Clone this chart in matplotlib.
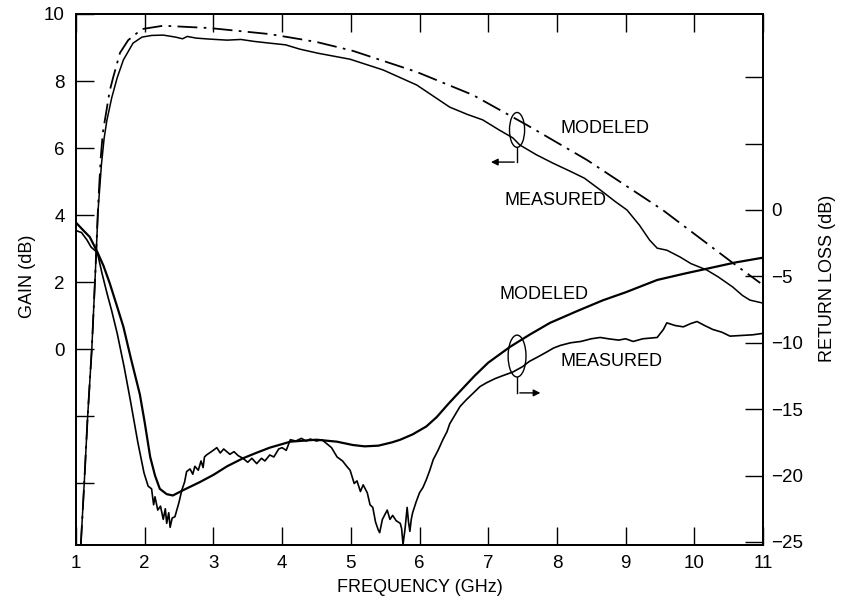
import matplotlib
matplotlib.use('Agg')
import matplotlib.pyplot as plt
from matplotlib.patches import Ellipse

plt.rcParams['font.family'] = ['Liberation Sans', 'DejaVu Sans']

# gain, modeled (dB)
gain_mod_f = [1.07, 1.12, 1.17, 1.23, 1.28, 1.32, 1.36, 1.39, 1.45, 1.49, 1.54, 1.64, 1.76,
              1.96, 2.27, 2.95, 3.82, 4.26, 4.51, 5.03, 5.96, 6.78, 7.56, 8.44, 9.54, 10.56, 10.96]
gain_mod = [-5.85, -4.0, -2.0, 0.0, 2.2, 4.2, 5.7, 6.45, 7.2, 7.7, 8.1, 8.84, 9.22,
            9.55, 9.65, 9.58, 9.4, 9.25, 9.16, 8.9, 8.27, 7.58, 6.69, 5.64, 4.15, 2.57, 1.97]

# gain, measured (dB)
gain_meas_f = [1.07, 1.12, 1.17, 1.23, 1.28, 1.32, 1.37, 1.41, 1.45, 1.52, 1.60, 1.69, 1.83,
               1.96, 2.1, 2.27, 2.45, 2.55, 2.62, 2.75, 2.95, 3.2, 3.4, 3.6, 3.82, 4.05,
               4.26, 4.52, 4.99, 5.47, 5.96, 6.2, 6.44, 6.7, 6.92, 7.15, 7.36, 7.46, 7.7,
               7.94, 8.2, 8.4, 8.63, 8.85, 9.02, 9.2, 9.35, 9.46, 9.6, 9.79, 9.95, 10.18,
               10.35, 10.56, 10.7, 10.81, 11.0]
gain_meas = [-5.85, -4.0, -2.0, 0.0, 2.2, 4.1, 5.5, 6.3, 6.83, 7.5, 8.1, 8.63, 9.13,
             9.31, 9.36, 9.37, 9.31, 9.26, 9.33, 9.28, 9.25, 9.22, 9.24, 9.18, 9.13, 9.08,
             8.95, 8.83, 8.65, 8.33, 7.88, 7.55, 7.22, 7.0, 6.84, 6.55, 6.3, 6.09, 5.8,
             5.55, 5.3, 5.1, 4.75, 4.4, 4.15, 3.7, 3.25, 3.01, 2.95, 2.75, 2.55, 2.36,
             2.15, 1.85, 1.6, 1.46, 1.37]

# return loss, modeled (dB)
rl_mod_f = [1.0, 1.1, 1.2, 1.31, 1.4, 1.49, 1.6, 1.69, 1.8, 1.93, 2.0, 2.08, 2.15, 2.22,
            2.32, 2.41, 2.56, 2.8, 3.0, 3.2, 3.43, 3.62, 3.82, 4.12, 4.5, 4.8, 5.03, 5.2,
            5.4, 5.6, 5.72, 5.9, 6.1, 6.25, 6.42, 6.6, 6.8, 7.0, 7.32, 7.6, 7.9, 8.3,
            8.67, 9.0, 9.46, 9.85, 10.23, 10.6, 10.99]
rl_mod = [-0.95, -1.5, -2.03, -3.16, -4.2, -5.5, -7.3, -8.8, -11.2, -13.9, -16.0, -18.6, -20.0, -21.0,
          -21.4, -21.5, -21.1, -20.5, -19.95, -19.3, -18.7, -18.3, -17.9, -17.45, -17.3, -17.45, -17.7, -17.8,
          -17.75, -17.5, -17.3, -16.9, -16.3, -15.6, -14.6, -13.6, -12.5, -11.5, -10.3, -9.4, -8.5, -7.6,
          -6.8, -6.2, -5.27, -4.8, -4.37, -3.95, -3.6]

# return loss, measured (dB)
rl_meas_f = [1.0, 1.08, 1.16, 1.22, 1.31, 1.38, 1.45, 1.52, 1.6, 1.7, 1.79, 1.9, 1.99, 2.05,
             2.1, 2.13, 2.15, 2.19, 2.23, 2.27, 2.3, 2.32, 2.35, 2.37, 2.4, 2.44, 2.5, 2.54,
             2.58, 2.61, 2.66, 2.7, 2.73, 2.78, 2.82, 2.85, 2.87, 2.9, 2.97, 3.05, 3.1, 3.15,
             3.24, 3.3, 3.36, 3.43, 3.5, 3.56, 3.63, 3.7, 3.75, 3.82, 3.88, 3.95, 4.0, 4.06,
             4.12, 4.2, 4.28, 4.35, 4.41, 4.5, 4.58, 4.65, 4.72, 4.8, 4.88, 4.94, 4.99, 5.05,
             5.09, 5.14, 5.18, 5.24, 5.28, 5.32, 5.36, 5.40, 5.42, 5.46, 5.5, 5.53, 5.57, 5.61,
             5.66, 5.72, 5.74, 5.76, 5.79, 5.82, 5.84, 5.86, 5.88, 5.9, 5.95, 6.0, 6.05, 6.1,
             6.15, 6.2, 6.27, 6.34, 6.4, 6.44, 6.52, 6.59, 6.68, 6.78, 6.88, 6.98, 7.1, 7.2,
             7.36, 7.5, 7.6, 7.71, 7.85, 7.95, 8.05, 8.2, 8.35, 8.5, 8.63, 8.75, 8.9, 9.0,
             9.11, 9.25, 9.35, 9.46, 9.55, 9.6, 9.72, 9.84, 9.95, 10.04, 10.15, 10.27, 10.4,
             10.52, 10.7, 10.85, 10.99]
rl_meas = [-1.55, -1.7, -2.26, -2.8, -3.2, -4.8, -6.25, -7.6, -9.3, -11.8, -14.3, -17.5, -19.8, -20.8,
           -21.0, -22.2, -21.6, -22.6, -22.3, -23.3, -22.5, -23.6, -22.8, -23.9, -23.2, -23.1, -22.0, -21.1,
           -20.5, -19.7, -19.5, -19.9, -19.3, -19.6, -18.9, -19.4, -18.6, -18.45, -18.2, -17.9, -18.3, -18.0,
           -18.4, -18.2, -18.5, -18.7, -19.0, -18.7, -19.1, -18.7, -18.9, -18.45, -18.6, -18.0, -17.9, -18.1,
           -17.3, -17.4, -17.2, -17.4, -17.25, -17.4, -17.3, -17.6, -17.9, -18.6, -18.9, -19.3, -19.6, -20.6,
           -20.4, -21.2, -20.7, -21.3, -22.2, -22.4, -23.5, -24.1, -24.3, -23.3, -22.9, -22.6, -23.3, -23.0,
           -23.4, -23.6, -24.0, -25.2, -24.0, -22.4, -23.5, -24.2, -23.3, -22.8, -22.0, -21.3, -20.9, -20.3,
           -19.6, -18.8, -18.1, -17.3, -16.7, -16.1, -15.4, -14.8, -14.3, -13.8, -13.3, -13.0, -12.7, -12.5,
           -12.2, -11.8, -11.4, -11.1, -10.7, -10.4, -10.2, -10.0, -9.9, -9.7, -9.6, -9.7, -9.8, -9.7,
           -9.9, -9.7, -9.65, -9.6, -9.0, -8.5, -8.7, -8.8, -8.55, -8.4, -8.7, -9.0, -9.2,
           -9.5, -9.45, -9.4, -9.3]

freq_ticks = list(range(1, 12))
gain_ticks = [-4, -2, 0, 2, 4, 6, 8, 10]
gain_labels = ['', '', '0', '2', '4', '6', '8', '10']
rl_ticks = [-25, -20, -15, -10, -5, 0, 5, 10]
rl_labels = ['\u221225', '\u221220', '\u221215', '\u221210', '\u22125', '0', '', '']

fig = plt.figure(figsize=(8.47, 6.01), dpi=100)
ax = fig.add_axes([76 / 847, 56 / 601, 687 / 847, 531 / 601])
ax2 = ax.twinx()

ax.plot(gain_mod_f, gain_mod, color='black', lw=1.3, dashes=(11, 3.5, 1.5, 3.5))
ax.plot(gain_meas_f, gain_meas, color='black', lw=1.1)
ax2.plot(rl_mod_f, rl_mod, color='black', lw=1.6)
ax2.plot(rl_meas_f, rl_meas, color='black', lw=1.2)

ax.set_xlim(1, 11)
ax.set_ylim(-5.85, 10)
ax2.set_ylim(-25.23, 14.76)

ax.set_xticks(freq_ticks)
ax.set_xticklabels([str(t) for t in freq_ticks])
ax.set_yticks(gain_ticks)
ax.set_yticklabels(gain_labels)
ax2.set_yticks(rl_ticks)
ax2.set_yticklabels(rl_labels)

ax.tick_params(axis='x', direction='in', length=13, width=1, top=True, pad=7, labelsize=13.5)
ax.tick_params(axis='y', direction='in', length=13, width=1, pad=8, labelsize=13.5)
ax2.tick_params(axis='y', direction='in', length=13, width=1, pad=6, labelsize=13.5)
for a in (ax, ax2):
    for s in a.spines.values():
        s.set_linewidth(1.3)

# curve labels
ax.text(8.05, 6.57, 'MODELED', fontsize=13, va='center')
ax.text(7.24, 4.42, 'MEASURED', fontsize=13, va='center')
ax.text(7.17, 1.64, 'MODELED', fontsize=13, va='center')
ax.text(8.05, -0.36, 'MEASURED', fontsize=13, va='center')

# ellipses with arrows pointing to the relevant axis
ax.add_patch(Ellipse((7.42, 6.54), 0.22, 1.04, fill=False, lw=1, color='black'))
ax.plot([7.42, 7.42], [6.0, 5.58], color='black', lw=1)
ax.annotate('', xy=(7.0, 5.58), xytext=(7.42, 5.58),
            arrowprops=dict(arrowstyle='-|>', lw=1, color='black', mutation_scale=10))
ax.add_patch(Ellipse((7.42, -0.21), 0.26, 1.25, fill=False, lw=1, color='black'))
ax.plot([7.42, 7.42], [-0.84, -1.31], color='black', lw=1)
ax.annotate('', xy=(7.8, -1.31), xytext=(7.42, -1.31),
            arrowprops=dict(arrowstyle='-|>', lw=1, color='black', mutation_scale=10))

fig.text(27 / 847, 1 - 276 / 601, 'GAIN (dB)', rotation=90, ha='center', va='center', fontsize=13)
fig.text(827 / 847, 1 - 278 / 601, 'RETURN LOSS (dB)', rotation=90, ha='center', va='center', fontsize=13)
fig.text(420 / 847, 1 - 588 / 601, 'FREQUENCY (GHz)', ha='center', va='center', fontsize=13)

fig.savefig('out.png', dpi=100)
